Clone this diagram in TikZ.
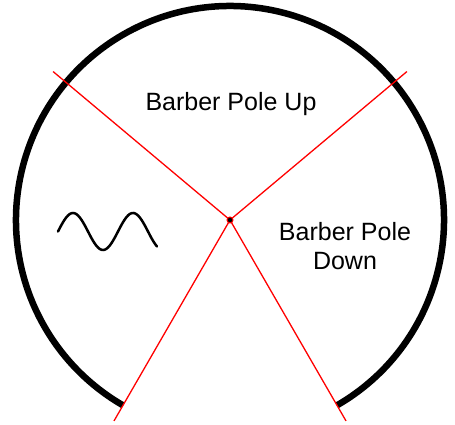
\documentclass[tikz,border=0pt]{standalone}
\usepackage{fontspec}
\setmainfont{Liberation Sans}
\usepackage{tikz}
\usetikzlibrary{positioning,calc}

\begin{document}
\begin{tikzpicture}[
  x=1pt, y=1pt,
  every node/.style={font=\fontsize{25}{29}\selectfont, align=center},
  rim/.style={draw, line width=6.5pt},
  cut line/.style={draw=red, line width=1.3pt},
  wave/.style={draw, line width=2.5pt, line cap=round}
]
  \useasboundingbox (0,0) rectangle (455,425);

  \coordinate (hub) at (230,205);
  \coordinate (ul) at ($(hub)+(140:231)$);
  \coordinate (ur) at ($(hub)+(40:231)$);
  \coordinate (ll) at ($(hub)+(240:232)$);
  \coordinate (lr) at ($(hub)+(300:232)$);

  % open rim
  \draw[rim] ($(hub)+(-60:214)$) arc[start angle=-60, end angle=240, radius=214];

  \draw[cut line] (hub) -- (ul);
  \draw[cut line] (hub) -- (ur);
  \draw[cut line] (hub) -- (ll);
  \draw[cut line] (hub) -- (lr);
  \filldraw[draw=red, fill=black, line width=1pt] (hub) circle (3pt);

  \node (up)   at (231,321) {Barber Pole Up};
  \node (down) at (345,179) {Barber Pole\\Down};

  \draw[wave] plot[domain=0:99, samples=80, smooth] ({58+\x}, {193.5+18.5*sin(6*\x)});
\end{tikzpicture}
\end{document}
